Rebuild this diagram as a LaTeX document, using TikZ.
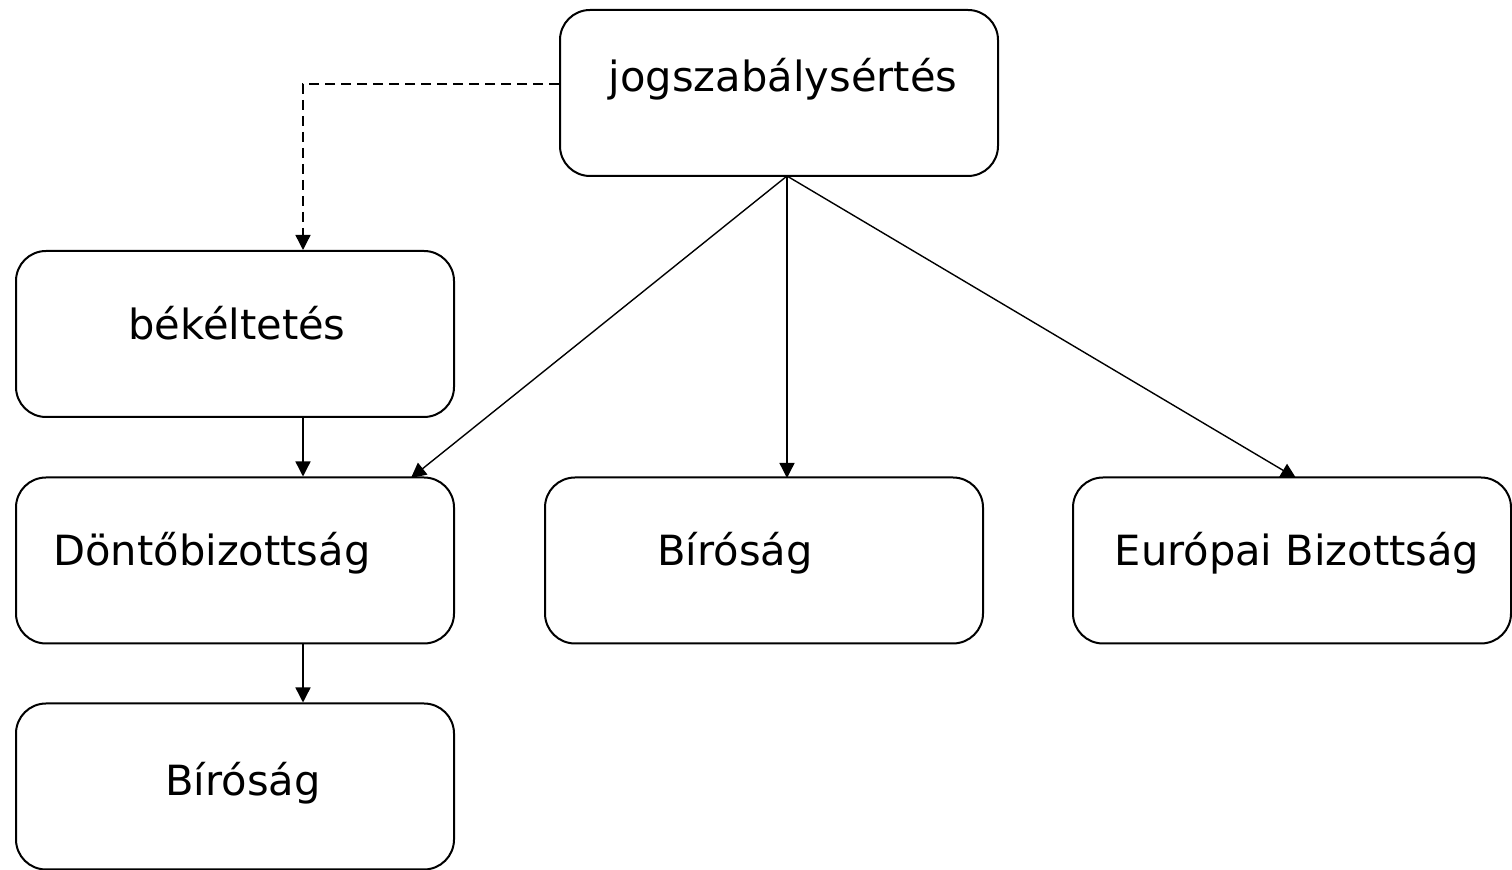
\documentclass[tikz,border=0pt]{standalone}
\usepackage{fontspec}
\setmainfont{DejaVu Sans}
\usetikzlibrary{arrows.meta}
\begin{document}
\begin{tikzpicture}[x=0.5pt,y=-0.5pt,
  box/.style={draw=black,line width=1pt,rounded corners=15pt,minimum width=219pt,minimum height=83pt,inner sep=0pt},
  lbl/.style={font=\fontsize{20.8pt}{25pt}\selectfont,inner sep=0pt,anchor=base},
  conn/.style={line width=0.7pt,-{Triangle[length=7.5pt,width=7.5pt]}},
  dconn/.style={conn,dash pattern=on 5pt off 3pt}]
\useasboundingbox (0,0) rectangle (1512,870);
\node[box] (jog) at (779,93) {};
\node[box] (bek) at (235,334) {};
\node[box] (dont) at (235,560.5) {};
\node[box] (bir) at (764,560.5) {};
\node[box] (eur) at (1292,560.5) {};
\node[box] (bir2) at (235,786.5) {};
\node[lbl] (tjog) at (783,92) {jogszabálysértés};
\node[lbl] (tbek) at (237,340) {békéltetés};
\node[lbl] (tdont) at (212,566) {Döntőbizottság};
\node[lbl] (tbir) at (735,566) {Bíróság};
\node[lbl] (teur) at (1297,566) {Európai Bizottság};
\node[lbl] (tbir2) at (243,796) {Bíróság};
\coordinate (corner) at (303,84);
\draw[dconn] (jog.west |- 0,84) -- (corner) -- (bek.north -| corner);
\draw[conn] (bek.south -| corner) -- (dont.north -| corner);
\draw[conn] (dont.south -| corner) -- (bir2.north -| corner);
\coordinate (src) at (787,176);
\draw[conn] (src) -- (411,478);
\draw[conn] (src) -- (787,478);
\draw[conn] (src) -- (1296,478);
\end{tikzpicture}
\end{document}
